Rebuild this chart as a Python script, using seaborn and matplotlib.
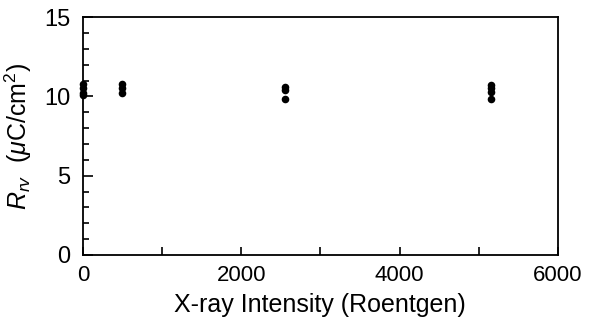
import matplotlib
matplotlib.use("Agg")
import matplotlib.pyplot as plt
from matplotlib.ticker import MultipleLocator
import pandas as pd
import seaborn as sns

# X-ray dose groups and the measured values at each one
dose = [0, 0, 0, 0, 500, 500, 500, 2550, 2550, 2550, 5150, 5150, 5150, 5150]
prv = [10.8, 10.5, 10.2, 10.1, 10.8, 10.5, 10.2, 10.6, 10.4, 9.85, 10.7, 10.5, 10.3, 9.85]

df = pd.DataFrame({"dose": dose, "prv": prv})

sns.set_style("white")
plt.rcParams["font.family"] = ["Liberation Sans", "DejaVu Sans"]
plt.rcParams["mathtext.fontset"] = "custom"
plt.rcParams["mathtext.rm"] = "Liberation Sans"
plt.rcParams["mathtext.it"] = "Liberation Sans:italic"
plt.rcParams["text.color"] = "black"
plt.rcParams["axes.labelcolor"] = "black"
plt.rcParams["xtick.labelcolor"] = "black"
plt.rcParams["ytick.labelcolor"] = "black"

fig = plt.figure(figsize=(6.05, 3.29), dpi=100)
ax = fig.add_axes([0.137, 0.225, 0.785, 0.723])
sns.scatterplot(data=df, x="dose", y="prv", ax=ax, color="black",
                s=30, edgecolor="black", linewidth=0, clip_on=False, zorder=3)

ax.set_xlim(0, 6000)
ax.set_ylim(0, 15)
ax.xaxis.set_major_locator(MultipleLocator(2000))
ax.xaxis.set_minor_locator(MultipleLocator(1000))
ax.yaxis.set_major_locator(MultipleLocator(5))
ax.yaxis.set_minor_locator(MultipleLocator(1))
ax.tick_params(which="both", direction="in", bottom=True, left=True,
               top=False, right=False, width=1.2, color="black",
               labelcolor="black", labelsize=16)
ax.tick_params(axis="y", labelsize=17)
ax.tick_params(axis="x", which="both", length=6, pad=7)
ax.tick_params(axis="y", which="major", length=7, pad=9)
ax.tick_params(axis="y", which="minor", length=4)
for s in ax.spines.values():
    s.set_linewidth(1.3)
    s.set_color("black")

ax.set_xlabel("X-ray Intensity (Roentgen)", fontsize=18, labelpad=5)
ax.set_ylabel(r"$R_{rv}$  ($\mu$C/cm$^2$)", fontsize=18, labelpad=7)

plt.savefig("out.png", dpi=100)
